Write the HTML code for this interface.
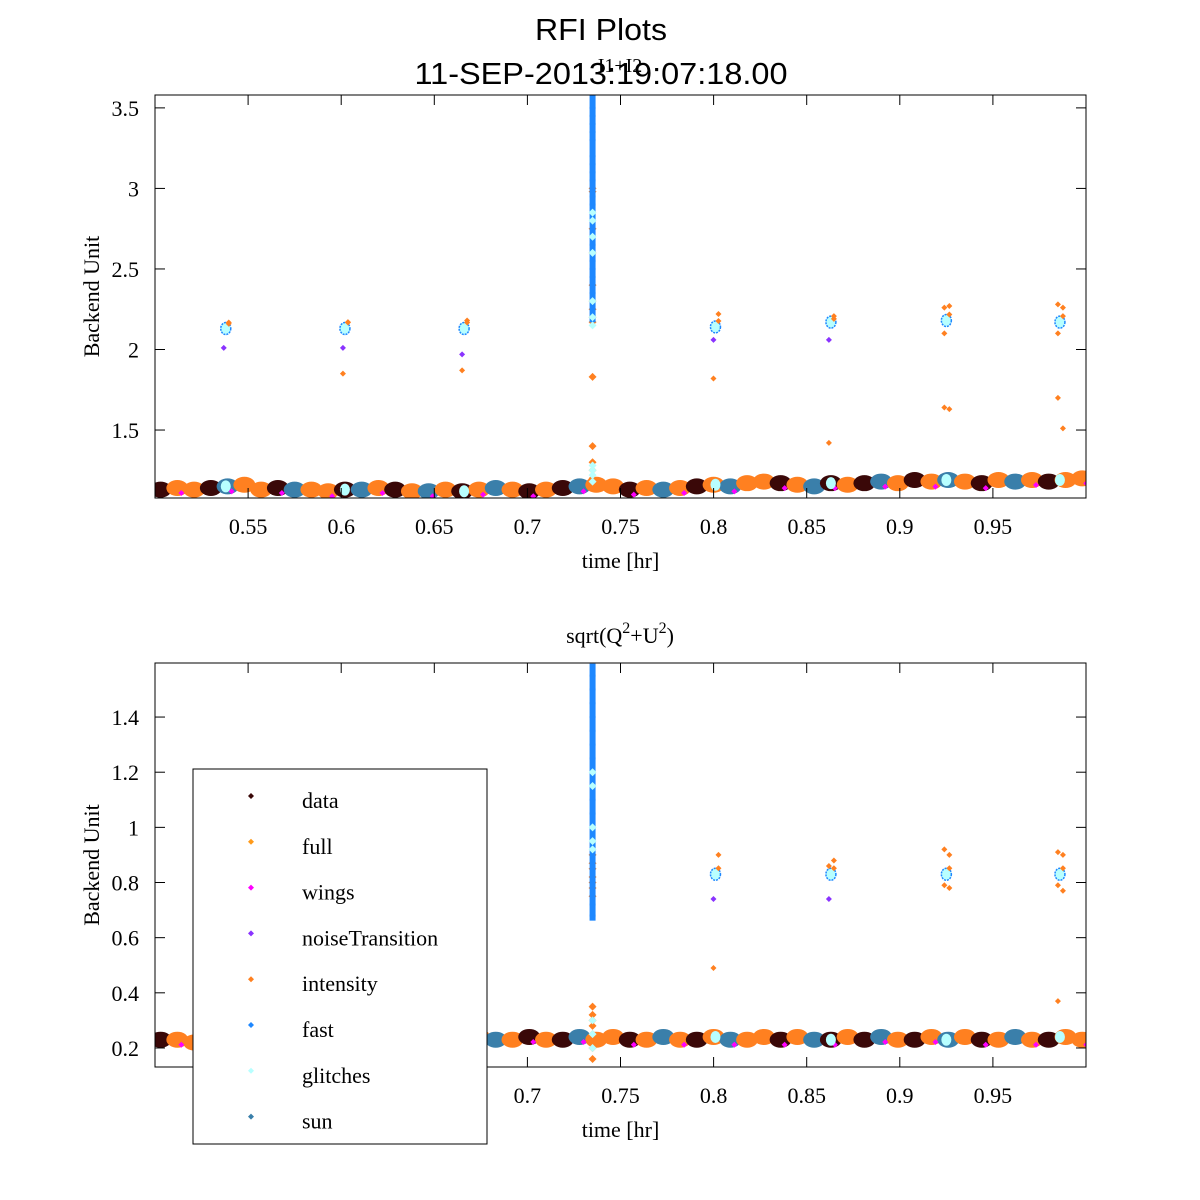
<!DOCTYPE html>
<html><head><meta charset="utf-8"><style>
html,body{margin:0;padding:0;background:#fff;}
svg{display:block;}
text{font-family:"Liberation Serif",serif;fill:#000;}
</style></head><body>
<svg id="chart" width="1200" height="1200" xmlns="http://www.w3.org/2000/svg">
<defs>
<clipPath id="clipTop"><rect x="155" y="95" width="931" height="403"/></clipPath>
<clipPath id="clipBot"><rect x="155" y="663" width="931" height="404"/></clipPath>
</defs>
<rect width="1200" height="1200" fill="#fff"/>
<text x="601" y="40" text-anchor="middle" font-size="31" style="font-family:'Liberation Sans',sans-serif" textLength="132" lengthAdjust="spacingAndGlyphs">RFI Plots</text>
<text x="601" y="84" text-anchor="middle" font-size="31" style="font-family:'Liberation Sans',sans-serif" textLength="373" lengthAdjust="spacingAndGlyphs">11-SEP-2013:19:07:18.00</text>
<g id="topPanel"></g>
<g id="bottomPanel"></g>
<g id="legend"></g>
</svg>
<script>
const xTicks=[0.55,0.6,0.65,0.7,0.75,0.8,0.85,0.9,0.95];
const topYTicks=[1.5,2,2.5,3,3.5];
const botYTicks=[0.2,0.4,0.6,0.8,1,1.2,1.4];
const baseX=[0.503,0.512,0.521,0.530,0.539,0.548,0.557,0.566,0.575,0.584,0.593,0.602,0.611,0.620,0.629,0.638,0.647,0.656,0.665,0.674,0.683,0.692,0.701,0.710,0.719,0.728,0.737,0.746,0.755,0.764,0.773,0.782,0.791,0.800,0.809,0.818,0.827,0.836,0.845,0.854,0.863,0.872,0.881,0.890,0.899,0.908,0.917,0.926,0.935,0.944,0.953,0.962,0.971,0.980,0.989,0.998];
const topBase=[1.13,1.14,1.13,1.14,1.15,1.16,1.13,1.14,1.13,1.13,1.12,1.13,1.13,1.14,1.13,1.12,1.12,1.13,1.12,1.13,1.14,1.13,1.12,1.13,1.14,1.15,1.16,1.15,1.13,1.14,1.13,1.14,1.15,1.16,1.15,1.17,1.18,1.17,1.16,1.15,1.17,1.16,1.17,1.18,1.17,1.19,1.18,1.19,1.18,1.17,1.19,1.18,1.19,1.18,1.19,1.20];
const botBase=[0.23,0.23,0.22,0.23,0.23,0.24,0.23,0.23,0.22,0.23,0.23,0.23,0.24,0.23,0.23,0.22,0.23,0.23,0.23,0.24,0.23,0.23,0.24,0.23,0.23,0.24,0.23,0.24,0.23,0.23,0.24,0.23,0.23,0.24,0.23,0.23,0.24,0.23,0.24,0.23,0.23,0.24,0.23,0.24,0.23,0.23,0.24,0.23,0.24,0.23,0.23,0.24,0.23,0.23,0.24,0.23];
const baseSeries=['d','o','o','d','s','o','o','d','s','o','o','d','s','o','d','o','s','o','d','o','s','o','d','o','d','s','o','o','d','o','s','o','d','o','s','o','o','d','o','s','d','o','d','s','o','d','o','s','o','d','o','s','o','d','o','o'];
const clusterX=[0.538,0.602,0.666,0.801,0.863,0.925,0.986];
const clusterTopY=[2.13,2.13,2.13,2.14,2.17,2.18,2.17];
const clusterTopOut=[[2.01,2.16],[2.01,2.17,1.85],[1.97,2.18,1.87],[2.06,2.22,1.82],[2.06,2.19,1.42],[2.26,2.27,1.64,1.63,2.1],[2.28,2.26,1.7,1.51,2.1]];
const clusterBotY=[0.83,0.83,0.83,0.83,0.83,0.83,0.83];
const clusterBotOut=[[0.8,0.85],[0.8,0.85],[0.8,0.85],[0.74,0.9,0.49],[0.74,0.88,0.86],[0.92,0.9,0.79,0.78],[0.91,0.9,0.79,0.77,0.37]];
const spikeX=0.735;
const spikeTopFast=[3.58,3.5,3.45,3.4,3.35,3.3,3.2,3.15,3.1,3.05,3.0,2.95,2.9,2.85,2.8,2.75,2.7,2.65,2.6,2.55,2.5,2.45,2.4,2.35,2.3,2.25,2.2];
const spikeTopOrange=[3.0,2.98,2.75,2.6,2.4,2.3,2.25,2.2,2.17,1.83,1.4,1.3,1.25,1.2];
const spikeTopCyan=[2.85,2.8,2.7,2.6,2.3,2.2,2.15,1.28,1.25,1.22,1.18];
const spikeBotFast=[1.59,1.55,1.5,1.45,1.4,1.35,1.3,1.25,1.2,1.15,1.1,1.05,1.0,0.95,0.9,0.85,0.8,0.75,0.72,0.68];
const spikeBotOrange=[0.9,0.87,0.85,0.82,0.8,0.78,0.75,0.35,0.32,0.3,0.28,0.25,0.2,0.16];
const spikeBotCyan=[1.2,1.15,1.0,0.95,0.92,0.3,0.25,0.2];
const legendLabels=['data','full','wings','noiseTransition','intensity','fast','glitches','sun'];
const legendColors=['#3a0808','#ff9a1a','#ff00ff','#8a33ff','#ff8020','#1e88ff','#b8ffff','#3a7faa'];
const COLORS={d:'#3a0808',o:'#ff8020',s:'#3a7faa',f:'#1e88ff',g:'#b8ffff',p:'#8a33ff',m:'#ff00ff'};
const NS='http://www.w3.org/2000/svg';
function mk(tag,attrs,parent){const e=document.createElementNS(NS,tag);for(const k in attrs)e.setAttribute(k,attrs[k]);parent.appendChild(e);return e;}
function diamond(g,x,y,r,c){return mk('path',{d:`M${x-r},${y}L${x},${y-r}L${x+r},${y}L${x},${y+r}Z`,fill:c},g);}
function panel(g,box,clip,ymin,ymax,yTicks,base,cY,cOut,sF,sO,sC){
  const X=v=>box.l+(v-0.5)/(0.5)*(box.r-box.l);
  const Y=v=>box.b-(v-ymin)/(ymax-ymin)*(box.b-box.t);
  const cg=mk('g',{'clip-path':'url(#'+clip+')'},g);
  
  
  baseX.forEach((x,i)=>{
    const e=mk('ellipse',{cx:X(x),cy:Y(base[i]),rx:11,ry:8,fill:COLORS[baseSeries[i]]},cg);
    
    
  });
  baseX.forEach((x,i)=>{ if(i%3==1){const e=diamond(cg,X(x)+4,Y(base[i])+5,3,'#ff00ff');}});
  clusterX.forEach((x,i)=>{
    const e=mk('ellipse',{cx:X(x),cy:Y(cY[i]),rx:5,ry:6,fill:'#b8ffff',stroke:'#1e88ff','stroke-width':1.5,'stroke-dasharray':'2 1'},cg);
    
    
    diamond(cg,X(x)+3,Y(cY[i])-6,3,'#ff8020');
    const bi=Math.min(base.length-1,Math.max(0,Math.round((x-0.503)/0.009)));
    const bl=mk('ellipse',{cx:X(x),cy:Y(base[bi]),rx:5,ry:6,fill:'#b8ffff'},cg);
    
    
    cOut[i].forEach((v,j)=>{const d=diamond(cg,X(x)+(j%2?3:-2),Y(v),3,(j==0&&v<cY[i])?'#8a33ff':'#ff8020');});
  });
  const sx=X(spikeX);
  sO.forEach(v=>{const d=diamond(cg,sx,Y(v),4,'#ff8020');});
  sF.forEach((v,i)=>{
    const nxt=i<sF.length-1?sF[i+1]:v-(ymax-ymin)*0.01;
    const d=mk('rect',{x:sx-3,y:Y(v)-1,width:6,height:Math.abs(Y(nxt)-Y(v))+2,fill:'#1e88ff'},cg);
    
    
  });
  sC.forEach(v=>{const d=diamond(cg,sx,Y(v),4,'#b8ffff');});
  const fr=mk('rect',{x:box.l,y:box.t,width:box.r-box.l,height:box.b-box.t,fill:'none',stroke:'#000','stroke-width':1},g);
  
  
  xTicks.forEach(t=>{
    const x=X(t);
    mk('line',{x1:x,y1:box.b,x2:x,y2:box.b-10,stroke:'#000'},g);
    mk('line',{x1:x,y1:box.t,x2:x,y2:box.t+10,stroke:'#000'},g);
    const tx=mk('text',{x:x,y:box.b+36,'text-anchor':'middle','font-size':22},g);
    tx.textContent=String(t);
    
    
  });
  yTicks.forEach(t=>{
    const y=Y(t);
    mk('line',{x1:box.l,y1:y,x2:box.l+10,y2:y,stroke:'#000'},g);
    mk('line',{x1:box.r,y1:y,x2:box.r-10,y2:y,stroke:'#000'},g);
    const tx=mk('text',{x:box.l-16,y:y+8,'text-anchor':'end','font-size':22},g);
    tx.textContent=String(t);
    
    
  });
  const xl=mk('text',{x:(box.l+box.r)/2,y:box.b+70,'text-anchor':'middle','font-size':22},g);
  xl.textContent='time [hr]';
  
  
  const yl=mk('text',{x:0,y:0,'text-anchor':'middle','font-size':22,transform:`translate(99,${(box.t+box.b)/2}) rotate(-90)`},g);
  yl.textContent='Backend Unit';
  
  
}
const topG=document.getElementById('topPanel');
panel(topG,{l:155,r:1086,t:95,b:498},'clipTop',1.078,3.58,topYTicks,topBase,clusterTopY,clusterTopOut,spikeTopFast,spikeTopOrange,spikeTopCyan);
const t1=mk('text',{x:620,y:72,'text-anchor':'middle','font-size':20},topG);
t1.textContent='I1+I2';


const botG=document.getElementById('bottomPanel');
panel(botG,{l:155,r:1086,t:663,b:1067},'clipBot',0.131,1.596,botYTicks,botBase,clusterBotY,clusterBotOut,spikeBotFast,spikeBotOrange,spikeBotCyan);
const t2=mk('text',{x:620,y:643,'text-anchor':'middle','font-size':22},botG);


const parts=[['sqrt(Q',0,22],['2',-10,16],['+U',10,22],['2',-10,16],[')',10,22]];
parts.forEach(p=>{const s=mk('tspan',{dy:p[1],'font-size':p[2]},t2);s.textContent=p[0];});
const lg=document.getElementById('legend');
const lb=mk('rect',{x:193,y:769,width:294,height:375,fill:'#fff',stroke:'#000','stroke-width':1},lg);


legendLabels.forEach((l,i)=>{
  const y=801+i*45.8;
  const d=diamond(lg,251,y-5,3,legendColors[i]);
  
  
  const t=mk('text',{x:302,y:y+7,'font-size':22},lg);
  t.textContent=l;
  
  
});
</script>
</body></html>
